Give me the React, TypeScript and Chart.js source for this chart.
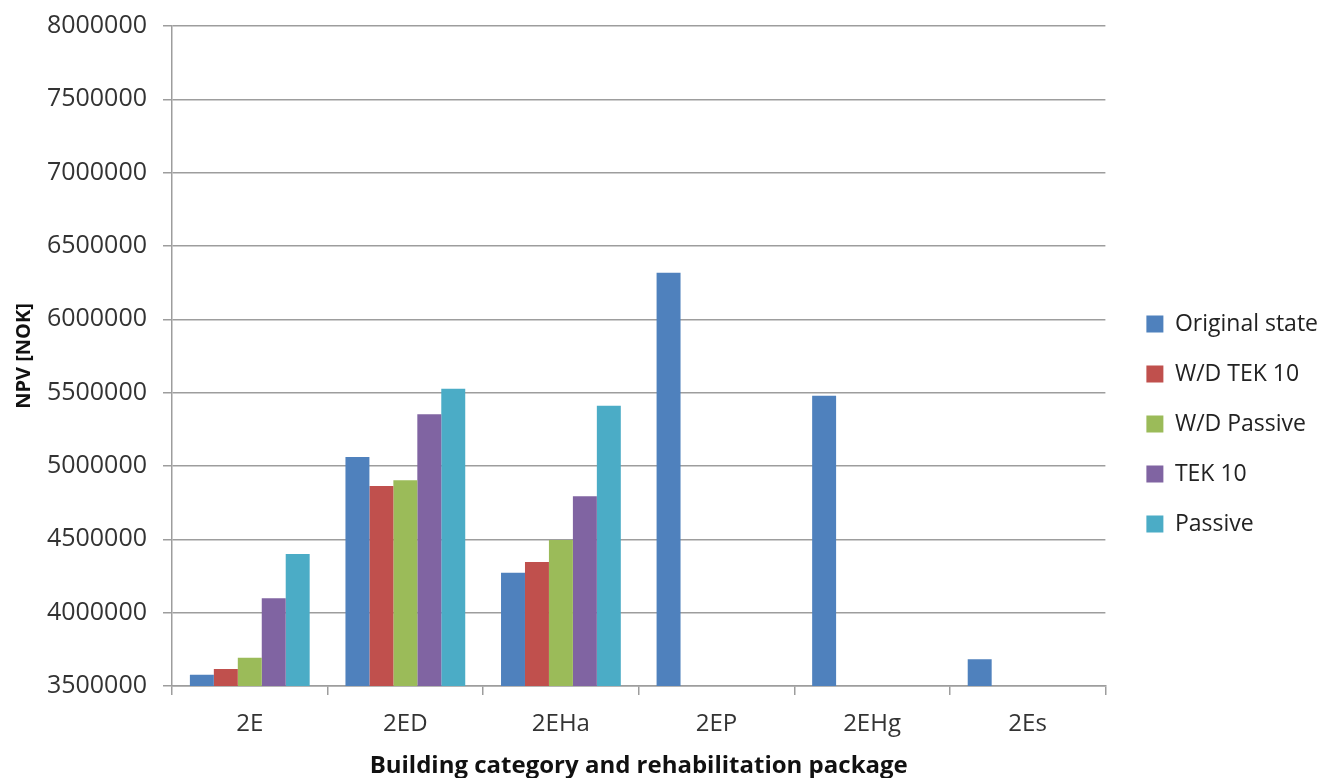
import React, { useEffect, useRef } from "react";
import { Chart, registerables } from "chart.js";

Chart.register(...registerables);

const categories = ["2E", "2ED", "2EHa", "2EP", "2EHg", "2Es"];
const originalState = [3577000, 5061000, 4272000, 6318000, 5479000, 3682000];
const wdTek10 = [3616000, 4864000, 4345000, null, null, null];
const wdPassive = [3693000, 4902000, 4495000, null, null, null];
const tek10 = [4098000, 5352000, 4793000, null, null, null];
const passive = [4400000, 5527000, 5411000, null, null, null];
const seriesLabels = ["Original state", "W/D TEK 10", "W/D Passive", "TEK 10", "Passive"];
const seriesColors = ["#4F81BD", "#C0504D", "#9BBB59", "#8064A2", "#4BACC6"];
const yMin = 3500000;
const yMax = 8000000;
const yStep = 500000;
const xTitle = "Building category and rehabilitation package";
const yTitle = "NPV [NOK]";

const FONT = "'Open Sans', 'Noto Sans', sans-serif";

export default function App() {
  const canvasRef = useRef<HTMLCanvasElement | null>(null);

  useEffect(() => {
    if (!canvasRef.current) return;
    const values = [originalState, wdTek10, wdPassive, tek10, passive];
    const legendShift = {
      id: "legendShift",
      afterUpdate(chart: any) {
        const lg = chart.legend;
        if (!lg) return;
        lg.left += 14;
        lg.right += 14;
        lg.top += 22;
        lg.bottom += 22;
        lg.adjustHitBoxes();
      },
    };
    const chart = new Chart(canvasRef.current, {
      type: "bar",
      data: {
        labels: categories,
        datasets: values.map((v, i) => ({
          label: seriesLabels[i],
          data: v,
          backgroundColor: seriesColors[i],
          borderWidth: 0,
          categoryPercentage: 0.77,
          barPercentage: 1,
        })),
      },
      options: {
        animation: false,
        responsive: true,
        maintainAspectRatio: false,
        layout: { padding: { top: 26, right: 17, bottom: 0, left: 0 } },
        plugins: {
          tooltip: { enabled: false },
          legend: {
            position: "right",
            maxWidth: 215,
            labels: {
              boxWidth: 17,
              boxHeight: 17,
              padding: 27,
              color: "#222",
              font: { family: FONT, size: 23 },
            },
          },
        },
        scales: {
          x: {
            afterFit(scale: any) {
              scale.height = 92;
            },
            grid: {
              offset: true,
              drawOnChartArea: false,
              drawTicks: true,
              tickLength: 9,
              color: "#9d9d9d",
              lineWidth: 1.5,
            },
            border: { color: "#9d9d9d", width: 1.5 },
            ticks: {
              color: "#333",
              padding: 15,
              font: { family: FONT, size: 24 },
            },
            title: {
              display: true,
              text: xTitle,
              color: "#111",
              font: { family: FONT, size: 24, weight: "bold" },
              padding: { top: 0, bottom: -3 },
            },
          },
          y: {
            min: yMin,
            max: yMax,
            afterFit(scale: any) {
              scale.width = 172;
              scale.paddingTop = 0;
            },
            grid: {
              color: "#9d9d9d",
              lineWidth: 1.5,
              tickLength: 9,
            },
            border: { color: "#9d9d9d", width: 1.5 },
            ticks: {
              stepSize: yStep,
              color: "#333",
              padding: 16,
              font: { family: FONT, size: 25 },
              callback: (v: any) => String(v),
            },
            title: {
              display: true,
              text: yTitle,
              color: "#111",
              font: { family: FONT, size: 20, weight: "bold" },
              padding: { top: 12, bottom: 0 },
            },
          },
        },
      },
      plugins: [legendShift],
    });
    return () => chart.destroy();
  }, []);

  return (
    <div style={{ position: "fixed", left: 0, top: 0, width: 1331, height: 778, background: "#fff" }}>
      <canvas ref={canvasRef} />
    </div>
  );
}
